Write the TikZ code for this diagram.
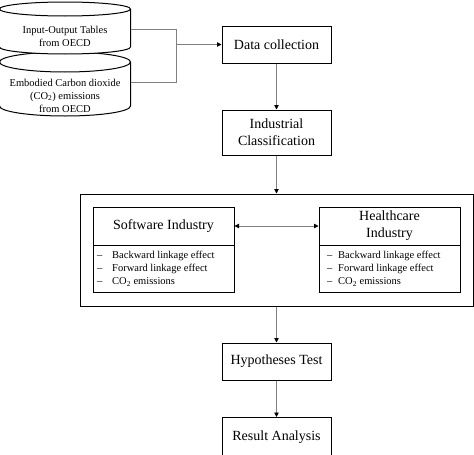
\documentclass[tikz,border=0pt]{standalone}
\usepackage{fontspec}
\setmainfont{Liberation Serif}
\usetikzlibrary{arrows.meta}
\newcommand\fbig{\fontsize{14}{17}\selectfont}
\newcommand\fsmall{\fontsize{10.5}{13}\selectfont}
\newcommand\dashA{\makebox[15pt][l]{–}}
\newcommand\dashB{\makebox[11pt][l]{–}}
\tikzset{
  box/.style={draw=black, line width=1pt, minimum width=109pt, align=center, font=\fbig, inner sep=0pt, fill=white},
  conn/.style={draw=black!50, line width=0.8pt},
  tip/.style={-{Triangle[length=4.5pt,width=4.5pt,color=black]}},
  dtip/.style={{Triangle[length=4.5pt,width=4.5pt,color=black]}-{Triangle[length=4.5pt,width=4.5pt,color=black]}},
  cyl/.style={draw=black, line width=1pt},
  cyltext/.style={font=\fsmall, align=center, inner sep=0pt},
  listtext/.style={font=\fsmall, align=left, inner sep=0pt, anchor=west},
}
\begin{document}
\begin{tikzpicture}[x=1pt,y=-1pt]
\useasboundingbox (0,0) rectangle (474,455);
\clip (0,0) rectangle (474,455);
% cylinder 2 (behind)
\path[fill=white] (-0.5,62) -- (-0.5,106) arc[start angle=180, end angle=360, x radius=65.5pt, y radius=10pt] -- (130.5,62) -- cycle;
\draw[cyl] (-0.5,62) -- (-0.5,106) arc[start angle=180, end angle=360, x radius=65.5pt, y radius=10pt] -- (130.5,62);
\draw[cyl, fill=white] (65,62) ellipse[x radius=65.5pt, y radius=10pt];
% cylinder 1 (front)
\path[fill=white] (-0.5,9) -- (-0.5,47) arc[start angle=180, end angle=360, x radius=65.5pt, y radius=7pt] -- (130.5,9) -- cycle;
\draw[cyl] (-0.5,9) -- (-0.5,47) arc[start angle=180, end angle=360, x radius=65.5pt, y radius=7pt] -- (130.5,9);
\draw[cyl, fill=white] (65,9) ellipse[x radius=65.5pt, y radius=7pt];
\node[cyltext] (t1) at (65,36) {Input-Output Tables\\from OECD};
\node[cyltext] (t2) at (65,95.5) {Embodied Carbon dioxide\\(CO\textsubscript{2}) emissions\\from OECD};
\coordinate (c1) at (130.5,29);
\coordinate (c2) at (130.5,82);
\coordinate (k1) at (176,29);
\coordinate (k2) at (176,82);
\coordinate (j) at (176,44.5);
% main boxes
\node[box, minimum height=37pt] (dc) at (276.5,44.5) {Data collection};
\node[box, minimum height=45pt] (ic) at (276.5,132.5) {Industrial\\Classification};
\node[draw=black, line width=1pt, minimum width=393pt, minimum height=112pt, inner sep=0pt] (outer) at (276.5,250) {};
\node[box, minimum width=141pt, minimum height=38pt] (swt) at (163.5,226) {Software Industry};
\node[box, minimum width=141pt, minimum height=47pt] (swl) at (163.5,268.5) {};
\node[box, minimum width=141pt, minimum height=38pt] (hct) at (389.5,226) {Healthcare\\Industry};
\node[box, minimum width=141pt, minimum height=47pt] (hcl) at (389.5,268.5) {};
\node[listtext] (swlist) at (97,269) {\dashA Backward linkage effect\\\dashA Forward linkage effect\\\dashA CO\textsubscript{2} emissions};
\node[listtext] (hclist) at (327,269) {\dashB Backward linkage effect\\\dashB Forward linkage effect\\\dashB CO\textsubscript{2} emissions};
\node[box, minimum height=37pt] (ht) at (276.5,361.5) {Hypotheses Test};
\node[box, minimum height=40pt, anchor=north] (ra) at (276.5,417) {Result Analysis};
% connectors
\draw[conn] (c1) -- (k1) -- (k2) -- (c2);
\draw[conn, tip] (j) -- (dc.west);
\draw[conn, tip] (dc.south) -- (ic.north);
\draw[conn, tip] (ic.south) -- (outer.north);
\draw[conn, dtip] (swt.east) -- (hct.west);
\draw[conn, tip] (outer.south) -- (ht.north);
\draw[conn, tip] (ht.south) -- (ra.north);
\end{tikzpicture}
\end{document}
